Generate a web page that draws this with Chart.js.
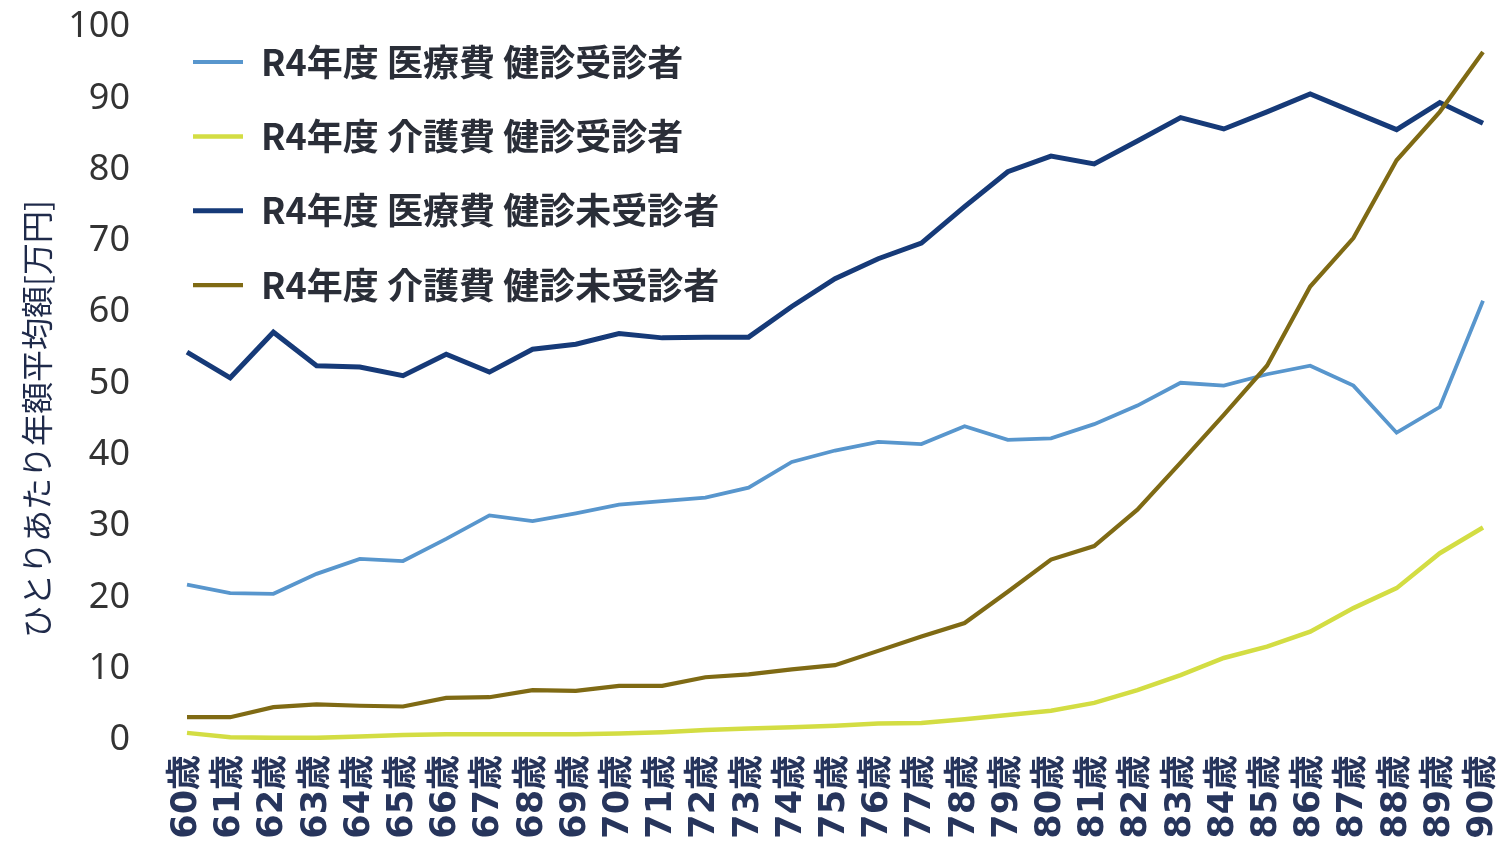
<!DOCTYPE html>
<html lang="ja">
<head>
<meta charset="utf-8">
<title>年齢別 ひとりあたり年額平均額</title>
<script src="https://cdn.jsdelivr.net/npm/chart.js@4/dist/chart.umd.min.js"></script>
<style>
  html, body { margin: 0; padding: 0; background: #ffffff; }
  #wrap { position: relative; width: 1503px; height: 854px; }
</style>
</head>
<body>
<div id="wrap"><canvas id="chart"></canvas></div>
<script>
// Age categories (x axis)
const ages = [
  '60歳','61歳','62歳','63歳','64歳','65歳','66歳','67歳','68歳','69歳',
  '70歳','71歳','72歳','73歳','74歳','75歳','76歳','77歳','78歳','79歳',
  '80歳','81歳','82歳','83歳','84歳','85歳','86歳','87歳','88歳','89歳','90歳'
];

// Series names
const seriesNames = [
  'R4年度 医療費 健診受診者',
  'R4年度 介護費 健診受診者',
  'R4年度 医療費 健診未受診者',
  'R4年度 介護費 健診未受診者'
];

// Average annual amount per person [10,000 yen]
const medicalExamined = [
  21.8, 20.6, 20.5, 23.3, 25.4, 25.1, 28.2, 31.5, 30.7, 31.8,
  33.0, 33.5, 34.0, 35.4, 39.0, 40.6, 41.8, 41.5, 44.0, 42.1,
  42.3, 44.3, 46.9, 50.1, 49.7, 51.3, 52.5, 49.7, 43.1, 46.7, 61.6
];
const careExamined = [
  1.0, 0.4, 0.3, 0.3, 0.5, 0.7, 0.8, 0.8, 0.8, 0.8,
  0.9, 1.1, 1.4, 1.6, 1.8, 2.0, 2.3, 2.4, 2.9, 3.5,
  4.1, 5.2, 7.0, 9.1, 11.5, 13.1, 15.2, 18.5, 21.3, 26.2, 29.8
];
const medicalUnexamined = [
  54.4, 50.8, 57.2, 52.5, 52.3, 51.1, 54.1, 51.6, 54.8, 55.5,
  57.0, 56.4, 56.5, 56.5, 60.8, 64.7, 67.5, 69.7, 74.8, 79.7,
  81.9, 80.8, 84.0, 87.3, 85.7, 88.1, 90.6, 88.1, 85.6, 89.4, 86.5
];
const careUnexamined = [
  3.2, 3.2, 4.6, 5.0, 4.8, 4.7, 5.9, 6.0, 7.0, 6.9,
  7.6, 7.6, 8.8, 9.2, 9.9, 10.5, 12.5, 14.5, 16.4, 20.8,
  25.3, 27.2, 32.3, 38.9, 45.6, 52.5, 63.6, 70.4, 81.3, 88.1, 96.5
];

// Y axis tick values
const yTicks = [0, 10, 20, 30, 40, 50, 60, 70, 80, 90, 100];
// trailing ideographic spaces nudge the rotated title a little lower
const yTitle = 'ひとりあたり年額平均額[万円]\u3000\u3000 ';

const colors = ['#5896cd', '#d3dd43', '#163a78', '#7f6a14'];
const widths = [3.8, 4.5, 5, 4.2];
const drawOrder = [3, 2, 1, 0];
const values = [medicalExamined, careExamined, medicalUnexamined, careUnexamined];

const datasets = seriesNames.map((name, i) => ({
  label: name,
  data: values[i],
  borderColor: colors[i],
  backgroundColor: colors[i],
  borderWidth: widths[i],
  pointRadius: 0,
  pointHoverRadius: 0,
  tension: 0,
  order: drawOrder[i],
  pointStyle: 'line'
}));

const jpFont = '"Noto Sans CJK JP", "Noto Sans", sans-serif';

// Invisible tick marks used as fixed gaps between the axes and their labels
const hiddenTicks = (len) => ({
  display: true,
  drawOnChartArea: false,
  drawTicks: true,
  tickLength: len,
  color: 'rgba(0,0,0,0)'
});

new Chart(document.getElementById('chart'), {
  type: 'line',
  data: { labels: ages, datasets },
  options: {
    responsive: true,
    maintainAspectRatio: false,
    animation: false,
    layout: { padding: { top: 27, right: 20, bottom: 0, left: 0 } },
    plugins: {
      tooltip: { enabled: false },
      legend: {
        position: 'chartArea',
        fullSize: false,
        align: 'start',
        title: { display: true, text: '', font: { size: 10, lineHeight: 1.2 }, padding: { top: 26, bottom: 0 } },
        labels: {
          usePointStyle: true,
          pointStyleWidth: 50,
          padding: 6,
          color: '#2a2e38',
          font: { family: jpFont, size: 36, weight: 'bold', lineHeight: 1.9 },
          sort: (a, b) => a.datasetIndex - b.datasetIndex,
          generateLabels: (chart) => {
            const items = Chart.defaults.plugins.legend.labels.generateLabels(chart);
            return items.map(it => Object.assign(it, { text: [it.text] }));
          }
        }
      }
    },
    scales: {
      x: {
        grid: hiddenTicks(15),
        border: { display: false },
        ticks: {
          autoSkip: false,
          minRotation: 90,
          maxRotation: 90,
          padding: 0,
          color: '#27355c',
          font: { family: '"DejaVu Sans", "Noto Sans CJK JP", sans-serif', size: 35, weight: 'bold' }
        },
        afterFit: (scale) => {
          scale.height = 114;
          scale.paddingLeft = 0;
          scale.paddingRight = 0;
        }
      },
      y: {
        min: 0,
        max: 100,
        grid: hiddenTicks(57),
        border: { display: false },
        afterBuildTicks: (scale) => { scale.ticks = yTicks.map(v => ({ value: v })); },
        ticks: {
          padding: 0,
          color: '#333333',
          font: { family: '"Noto Sans", sans-serif', size: 36 }
        },
        title: {
          display: true,
          text: yTitle,
          color: '#1f2a4a',
          padding: { top: 18, bottom: 0 },
          font: { family: jpFont, size: 32, lineHeight: 1.2 }
        },
        afterFit: (scale) => { scale.width = 187; }
      }
    }
  }
});
</script>
</body>
</html>
